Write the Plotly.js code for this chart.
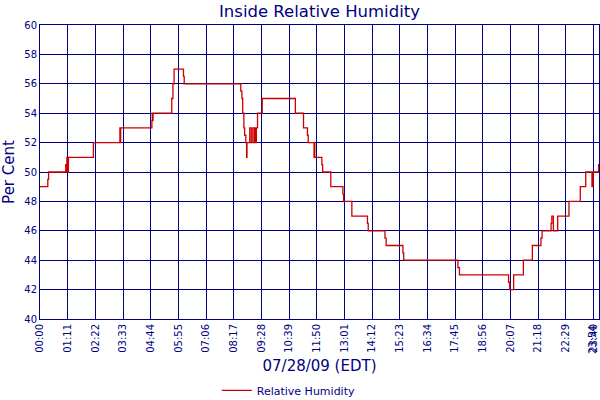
<!DOCTYPE html>
<html>
<head>
<meta charset="utf-8">
<script src="https://cdn.plot.ly/plotly-3.0.1.min.js"></script>
<style>
  html, body { margin: 0; padding: 0; background: #fff; }
  #plot { width: 600px; height: 400px; }
</style>
</head>
<body>
<div id="plot"></div>
<script>
// readings, 07/28/09 (EDT)
const times = [
    '00:00', '00:20', '00:22', '01:06', '01:07', '01:09', '01:11', '01:13',
    '02:17', '03:25', '03:26', '03:27', '04:47', '04:48', '04:49', '04:50',
    '05:38', '05:41', '05:44', '06:08', '06:10',
    '08:35', '08:38', '08:40', '08:43', '08:45', '08:48', '08:50', '08:51',
    '08:58', '09:02', '09:06', '09:10', '09:11', '09:13', '09:15', '09:18', '09:30',
    '10:55', '11:16', '11:26', '11:28', '11:43', '11:44', '11:45',
    '12:03', '12:05', '12:26', '12:57', '12:59', '13:20', '14:00', '14:02',
    '14:45', '14:48', '15:31', '15:33', '17:52', '17:56', '20:02', '20:05',
    '20:15', '20:40', '21:03', '21:25', '21:28', '21:51', '21:53', '21:57',
    '22:08', '22:37', '23:06', '23:20', '23:36', '23:39', '23:53', '23:54'
]
const humidity = [
    49, 49.5, 50, 50.5, 50, 51, 50, 51,
    52, 53, 52, 53, 53.5, 54, 53.5, 54,
    55, 56, 57, 56.5, 56,
    55.5, 55, 54, 53, 52.5, 52, 51, 52,
    53, 52, 53, 52, 53, 52, 53, 54, 55,
    54, 53, 52.5, 52, 51, 52, 51,
    50.5, 50, 49, 48.5, 48, 47, 46.5, 46,
    45.5, 45, 44.5, 44, 43.5, 43, 42.5, 42,
    43, 44, 45, 45.5, 46, 46.5, 47, 46,
    47, 48, 49, 50, 49, 50, 50.5, 50.5
]
const tickLabels = [
    '00:00', '01:11', '02:22', '03:33', '04:44', '05:55', '07:06', '08:17',
    '09:28', '10:39', '11:50', '13:01', '14:12', '15:23', '16:34', '17:45',
    '18:56', '20:07', '21:18', '22:29', '23:40'
]
const endLabel = '23:54'

function toMinutes(hhmm) {
    const parts = hhmm.split(':')
    return parseInt(parts[0]) * 60 + parseInt(parts[1])
}

const navy = '#000080'
const font = 'DejaVu Sans, Verdana, sans-serif'

const trace = {
    x: times.map(toMinutes),
    y: humidity,
    type: 'scatter',
    mode: 'lines',
    name: 'Relative Humidity',
    line: { color: '#cc0000', width: 1.3, shape: 'hv' }
}

const layout = {
    width: 600,
    height: 400,
    margin: { l: 40, r: 1, t: 25, b: 81, autoexpand: false },
    paper_bgcolor: '#ffffff',
    plot_bgcolor: '#ffffff',
    font: { family: font, color: navy },
    title: {
        text: 'Inside Relative Humidity',
        font: { family: font, size: 16.5, color: navy },
        x: 0.5, xref: 'paper',
        y: 0.972, yref: 'container', yanchor: 'middle'
    },
    showlegend: true,
    legend: {
        orientation: 'h',
        x: 0.445, xanchor: 'center',
        y: -0.243, yanchor: 'middle',
        itemwidth: 30,
        font: { family: font, size: 11, color: navy }
    },
    // the end-of-data label sits on the right edge, kept inside the page
    annotations: [{
        text: endLabel,
        x: toMinutes(endLabel), xref: 'x', xanchor: 'right', xshift: 1,
        y: 0, yref: 'paper', yanchor: 'top', yshift: -4,
        textangle: -90,
        showarrow: false,
        font: { family: font, size: 10, color: navy }
    }],
    xaxis: {
        range: [0, toMinutes(endLabel)],
        tickvals: tickLabels.map(toMinutes),
        ticktext: tickLabels,
        tickangle: -90,
        ticklabeloverflow: 'allow',
        tickfont: { family: font, size: 10, color: navy },
        showgrid: true,
        gridcolor: navy,
        gridwidth: 1,
        zeroline: false,
        showline: true,
        linecolor: navy,
        linewidth: 1,
        mirror: true,
        ticks: '',
        automargin: false,
        title: { text: '07/28/09 (EDT)', font: { family: font, size: 15, color: navy }, standoff: 8 }
    },
    yaxis: {
        range: [40, 60],
        dtick: 2,
        tickfont: { family: font, size: 10, color: navy },
        showgrid: true,
        gridcolor: navy,
        gridwidth: 1,
        zeroline: false,
        showline: true,
        linecolor: navy,
        linewidth: 1,
        mirror: true,
        ticks: '',
        automargin: false,
        title: { text: 'Per Cent', font: { family: font, size: 15, color: navy }, standoff: 6 }
    }
}

Plotly.newPlot('plot', [trace], layout, { displayModeBar: false, staticPlot: true })
</script>
</body>
</html>
